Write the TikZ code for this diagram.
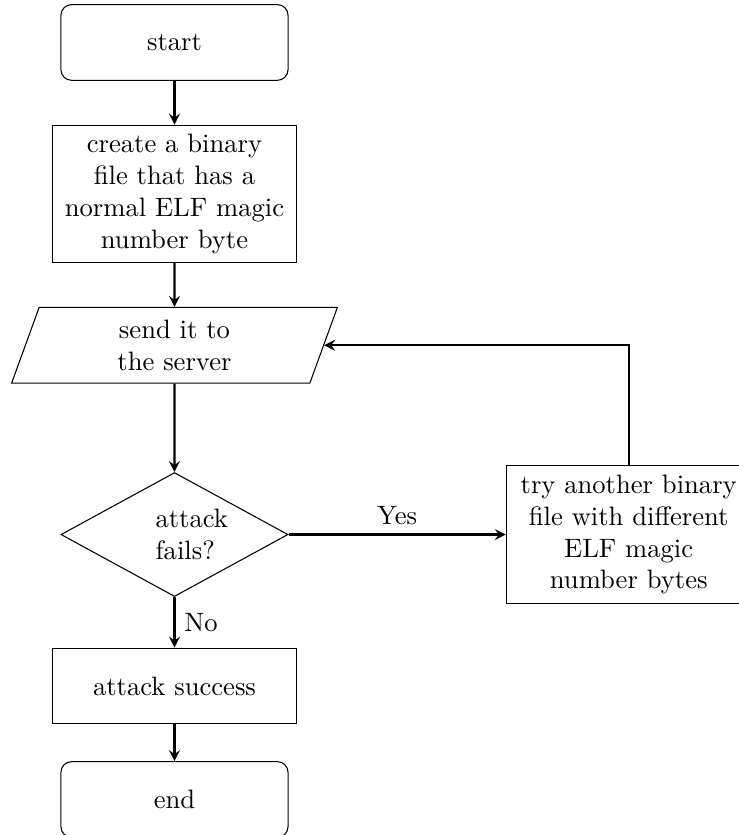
\documentclass[tikz,border=0pt]{standalone}
\usetikzlibrary{shapes.geometric,arrows}
\begin{document}
\begin{tikzpicture}[
  startstop/.style={rectangle, rounded corners, minimum width=3cm, minimum height=1cm, text centered, draw=black},
  io/.style={trapezium, trapezium left angle=70, trapezium right angle=110, minimum width=3cm, minimum height=1cm, text centered, text width=3cm, draw=black},
  process/.style={rectangle, minimum width=3cm, minimum height=1cm, text centered, text width=3cm, draw=black},
  decision/.style={diamond, minimum width=3cm, minimum height=1cm, text centered, text width=0.5cm, draw=black},
  arrow/.style={thick,->,>=stealth}
]
\useasboundingbox (-2.305,0.561) rectangle (7.444,-10.469);
\node (start) [startstop] at (0,0) {start};
\node (pro1) [process] at (0,-2) {create a binary file that has a normal ELF magic number byte};
\node (in1) [io] at (0,-4) {send it to the server};
\node (dec1) [decision] at (0,-6.5) {attack fails?};
\node (pro2a) [process] at (0,-8.5) {attack success};
\node (pro2b) [process] at (6,-6.5) {try another binary file with different ELF magic number bytes};
\node (stop) [startstop] at (0,-10) {end};
\draw [arrow] (start) -- (pro1);
\draw [arrow] (pro1) -- (in1);
\draw [arrow] (in1) -- (dec1);
\draw [arrow] (dec1) -- node[anchor=west] {No} (pro2a);
\draw [arrow] (dec1) -- node[anchor=south] {Yes} (pro2b);
\draw [arrow] (pro2b) |- (in1);
\draw [arrow] (pro2a) -- (stop);
\end{tikzpicture}
\end{document}
